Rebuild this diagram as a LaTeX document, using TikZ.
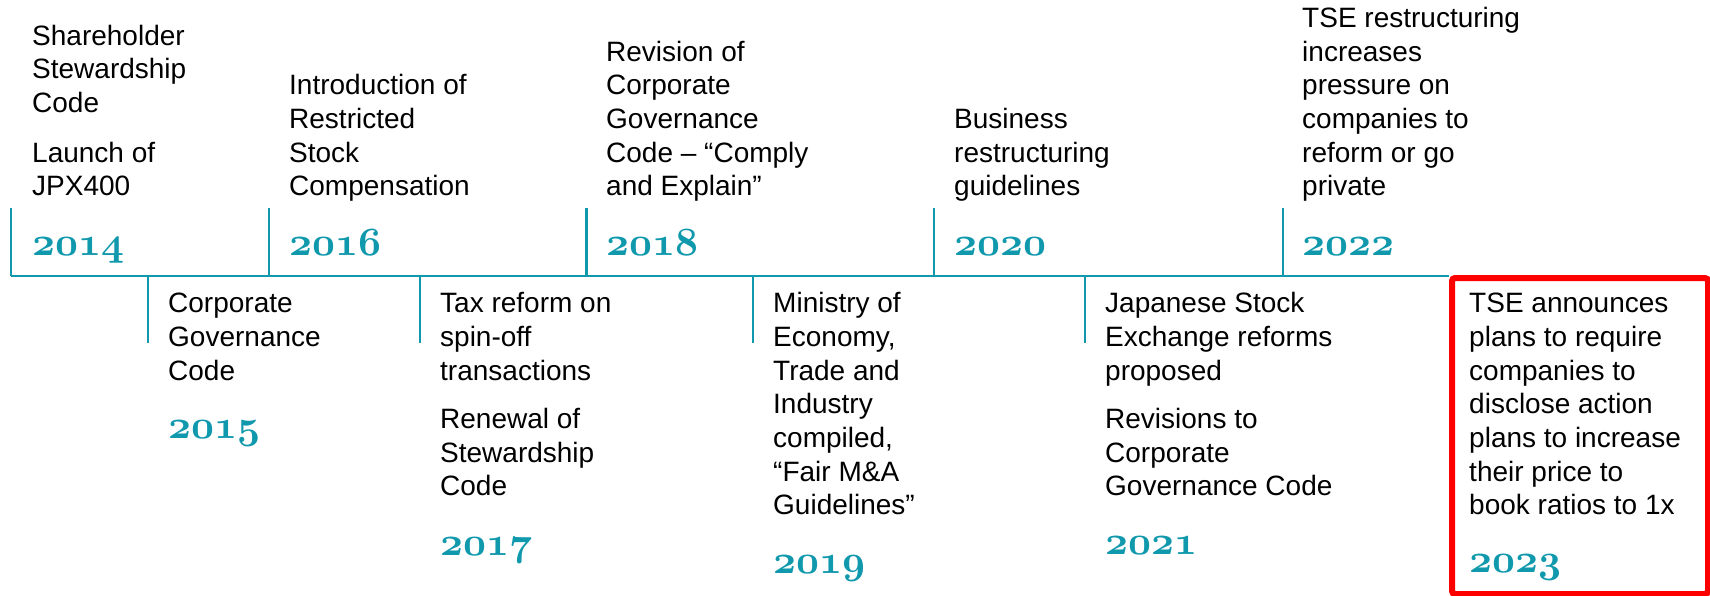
\documentclass[tikz,border=0pt]{standalone}
\usepackage{graphicx}
\usepackage{fontspec}
\setmainfont{Liberation Sans}
\definecolor{tealc}{RGB}{16,152,172}
\definecolor{redc}{RGB}{255,0,0}
\newcommand\evup[1]{\begin{tabular}[b]{@{}l@{}}#1\end{tabular}}
\newcommand\evdn[1]{\begin{tabular}[t]{@{}l@{}}#1\end{tabular}}
\newcommand\yeartext[1]{\scalebox{1.608}{\fontsize{24.88}{30}\usefont{OML}{cmm}{b}{it}#1}}
\tikzset{
  axisline/.style={draw=tealc, line width=2.8pt},
  yrtick/.style={draw=tealc, line width=2.6pt},
  evt/.style={anchor=base west, inner sep=0pt, text=black, font=\fontsize{28}{33.7}\selectfont},
  yr/.style={anchor=base west, inner sep=0pt, text=tealc},
  hilite/.style={draw=redc, line width=6pt, rounded corners=3pt, inner sep=0pt, anchor=north west}
}
\begin{document}
\begin{tikzpicture}[x=1pt,y=-1pt]
\useasboundingbox (0,0) rectangle (1710,596);
% highlight box
\node[hilite, minimum width=256pt, minimum height=316pt] (box) at (1449,275) {};
% axis coordinates
\coordinate (a14) at (11,276);
\coordinate (a16) at (269,276);
\coordinate (a18) at (586.5,276);
\coordinate (a20) at (934,276);
\coordinate (a22) at (1283,276);
\coordinate (a15) at (148,276);
\coordinate (a17) at (420,276);
\coordinate (a19) at (753,276);
\coordinate (a21) at (1085,276);
\draw[axisline] (a14) -- (a14 -| box.west);
\foreach \c in {a14,a16,a18,a20,a22} \draw[yrtick] (\c) -- ++(0,-68);
\foreach \c in {a15,a17,a19,a21} \draw[yrtick] (\c) -- ++(0,67);
% upper events
\node[evt] (e14) at (32,196) {\evup{Shareholder\\Stewardship\\Code\\[16pt]Launch of\\JPX400}};
\node[evt] (e16) at (289,196) {\evup{Introduction of\\Restricted\\Stock\\Compensation}};
\node[evt] (e18) at (606,196) {\evup{Revision of\\Corporate\\Governance\\Code – “Comply\\and Explain”}};
\node[evt] (e20) at (954,196) {\evup{Business\\restructuring\\guidelines}};
\node[evt] (e22) at (1302,196) {\evup{TSE restructuring\\increases\\pressure on\\companies to\\reform or go\\private}};
\node[yr] (y14) at (32,255) {\yeartext{2014}};
\node[yr] (y16) at (289,255) {\yeartext{2016}};
\node[yr] (y18) at (606,255) {\yeartext{2018}};
\node[yr] (y20) at (954,255) {\yeartext{2020}};
\node[yr] (y22) at (1302,255) {\yeartext{2022}};
% lower events
\node[evt] (e15) at (168,312.7) {\evdn{Corporate\\Governance\\Code}};
\node[evt] (e17) at (440,312.7) {\evdn{Tax reform on\\spin-off\\transactions\\[14.5pt]Renewal of\\Stewardship\\Code}};
\node[evt] (e19) at (773,312.7) {\evdn{Ministry of\\Economy,\\Trade and\\Industry\\compiled,\\“Fair M\&A\\Guidelines”}};
\node[evt] (e21) at (1105,312.7) {\evdn{Japanese Stock\\Exchange reforms\\proposed\\[14.5pt]Revisions to\\Corporate\\Governance Code}};
\node[evt] (e23) at (1469,312.7) {\evdn{TSE announces\\plans to require\\companies to\\disclose action\\plans to increase\\their price to\\book ratios to 1x}};
\node[yr] (y15) at (168,438) {\yeartext{2015}};
\node[yr] (y17) at (440,555) {\yeartext{2017}};
\node[yr] (y19) at (773,573) {\yeartext{2019}};
\node[yr] (y21) at (1105,554) {\yeartext{2021}};
\node[yr] (y23) at (1469,572) {\yeartext{2023}};
\end{tikzpicture}
\end{document}
